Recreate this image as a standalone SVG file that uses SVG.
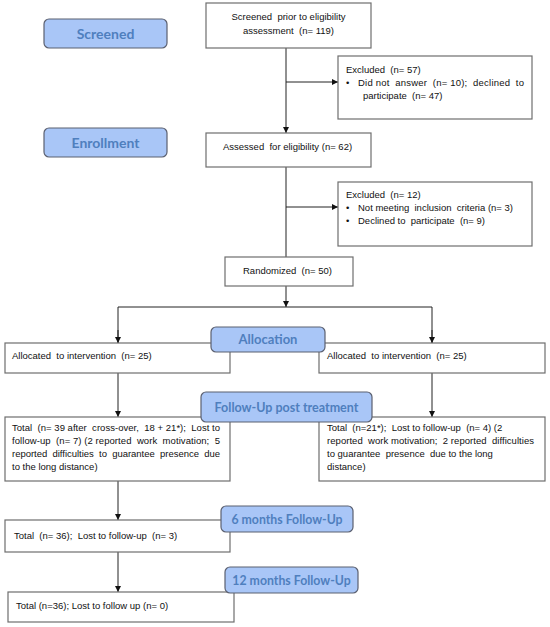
<svg xmlns="http://www.w3.org/2000/svg" width="550" height="627" viewBox="0 0 550 627">
<defs>
<marker id="ah" viewBox="0 0 8 8" refX="8" refY="4" markerWidth="6" markerHeight="6" orient="auto" markerUnits="userSpaceOnUse">
<path d="M0,0 L8,4 L0,8 z" fill="#111"/>
</marker>
<style>
.box{fill:#fff;stroke:#6e6e6e;stroke-width:1.2}
.lbl{fill:#a9c6f7;stroke:#5b6070;stroke-width:1.2}
.lt{font-family:Lato,"Open Sans",sans-serif;font-weight:700;font-size:14px;fill:#4f7fbe;text-anchor:middle}
.t{font-family:"Liberation Sans",Arial,sans-serif;font-size:9.5px;fill:#111;white-space:pre}
.c{fill:none;stroke:#222;stroke-width:1}
</style>
</defs>
<rect width="550" height="627" fill="#fff"/>
<g id="connectors">
<line class="c" x1="286" y1="48" x2="286" y2="133" marker-end="url(#ah)"/>
<line class="c" x1="286" y1="82" x2="338" y2="82" marker-end="url(#ah)"/>
<line class="c" x1="286" y1="167" x2="286" y2="257"/>
<line class="c" x1="286" y1="207" x2="338" y2="207" marker-end="url(#ah)"/>
<line class="c" x1="286" y1="286" x2="286" y2="307" marker-end="url(#ah)"/>
<polyline class="c" points="118,343 118,307 432,307 432,343"/>
<line class="c" x1="118" y1="330" x2="118" y2="343" marker-end="url(#ah)"/>
<line class="c" x1="432" y1="330" x2="432" y2="343" marker-end="url(#ah)"/>
<line class="c" x1="118" y1="373" x2="118" y2="417" marker-end="url(#ah)"/>
<line class="c" x1="432" y1="373" x2="432" y2="417" marker-end="url(#ah)"/>
<line class="c" x1="118" y1="481" x2="118" y2="520" marker-end="url(#ah)"/>
<line class="c" x1="118" y1="552" x2="118" y2="592" marker-end="url(#ah)"/>
</g>
<g id="screened-box">
<rect class="box" x="206" y="3" width="165" height="45"/>
<text class="t" x="288.5" y="20" text-anchor="middle">Screened  prior to eligibility</text>
<text class="t" x="288.5" y="34" text-anchor="middle">assessment  (n= 119)</text>
</g>
<g id="excluded1">
<rect class="box" x="338" y="56" width="194" height="63"/>
<text class="t" x="346" y="73">Excluded  (n= 57)</text>
<text class="t" x="346" y="86">•</text>
<text class="t" x="358" y="86" textLength="166" lengthAdjust="spacing">Did not  answer  (n= 10);  declined  to</text>
<text class="t" x="363" y="99">participate  (n= 47)</text>
</g>
<g id="assessed-box">
<rect class="box" x="206" y="133" width="165" height="34"/>
<text class="t" x="223" y="150">Assessed  for eligibility (n= 62)</text>
</g>
<g id="excluded2">
<rect class="box" x="338" y="182" width="194" height="64"/>
<text class="t" x="346" y="198">Excluded  (n= 12)</text>
<text class="t" x="346" y="211">•</text>
<text class="t" x="358" y="211">Not meeting  inclusion  criteria (n= 3)</text>
<text class="t" x="346" y="224">•</text>
<text class="t" x="358" y="224">Declined to  participate  (n= 9)</text>
</g>
<g id="randomized-box">
<rect class="box" x="225" y="257" width="128" height="29"/>
<text class="t" x="243" y="274">Randomized  (n= 50)</text>
</g>
<g id="alloc-left">
<rect class="box" x="5" y="343" width="225" height="30"/>
<text class="t" x="12" y="359">Allocated  to intervention  (n= 25)</text>
</g>
<g id="alloc-right">
<rect class="box" x="319" y="343" width="226" height="30"/>
<text class="t" x="327" y="359">Allocated  to intervention  (n= 25)</text>
</g>
<g id="followup-left">
<rect class="box" x="5" y="417" width="225" height="64"/>
<text class="t" x="12" y="431" textLength="208" lengthAdjust="spacing">Total  (n= 39 after  cross-over,  18 + 21*);  Lost to</text>
<text class="t" x="12" y="444" textLength="208" lengthAdjust="spacing">follow-up  (n= 7) (2 reported  work  motivation;  5</text>
<text class="t" x="12" y="457" textLength="208" lengthAdjust="spacing">reported  difficulties  to  guarantee  presence  due</text>
<text class="t" x="12" y="470">to the long distance)</text>
</g>
<g id="followup-right">
<rect class="box" x="319" y="417" width="226" height="64"/>
<text class="t" x="327" y="431">Total  (n=21*);  Lost to follow-up  (n= 4) (2</text>
<text class="t" x="327" y="444" textLength="207" lengthAdjust="spacing">reported  work motivation;  2 reported  difficulties</text>
<text class="t" x="327" y="457">to guarantee  presence  due to the long</text>
<text class="t" x="327" y="470">distance)</text>
</g>
<g id="six-months-box">
<rect class="box" x="5" y="520" width="225" height="32"/>
<text class="t" x="14" y="539">Total  (n= 36);  Lost to follow-up  (n= 3)</text>
</g>
<g id="twelve-months-box">
<rect class="box" x="8" y="592" width="226" height="30"/>
<text class="t" x="16" y="609">Total (n=36); Lost to follow up (n= 0)</text>
</g>
<g id="label-screened">
<rect class="lbl" x="44" y="19" width="123" height="29" rx="5"/>
<text class="lt" x="105.5" y="38.5">Screened</text>
</g>
<g id="label-enrollment">
<rect class="lbl" x="44" y="128" width="123" height="29" rx="5"/>
<text class="lt" x="105.5" y="147.5">Enrollment</text>
</g>
<g id="label-allocation">
<rect class="lbl" x="211" y="327" width="114" height="25" rx="5"/>
<text class="lt" x="268" y="344" style="font-size:13px">Allocation</text>
</g>
<g id="label-followup">
<rect class="lbl" x="201" y="392" width="171" height="30" rx="5"/>
<text class="lt" x="286.5" y="411.5" style="font-size:12.5px">Follow-Up post treatment</text>
</g>
<g id="label-6m">
<rect class="lbl" x="221" y="506" width="132" height="26" rx="5"/>
<text class="lt" x="287" y="523.5" style="font-size:12.3px">6 months Follow-Up</text>
</g>
<g id="label-12m">
<rect class="lbl" x="225" y="567" width="133" height="26" rx="5"/>
<text class="lt" x="291.5" y="584.5" style="font-size:12.3px">12 months Follow-Up</text>
</g>
</svg>
